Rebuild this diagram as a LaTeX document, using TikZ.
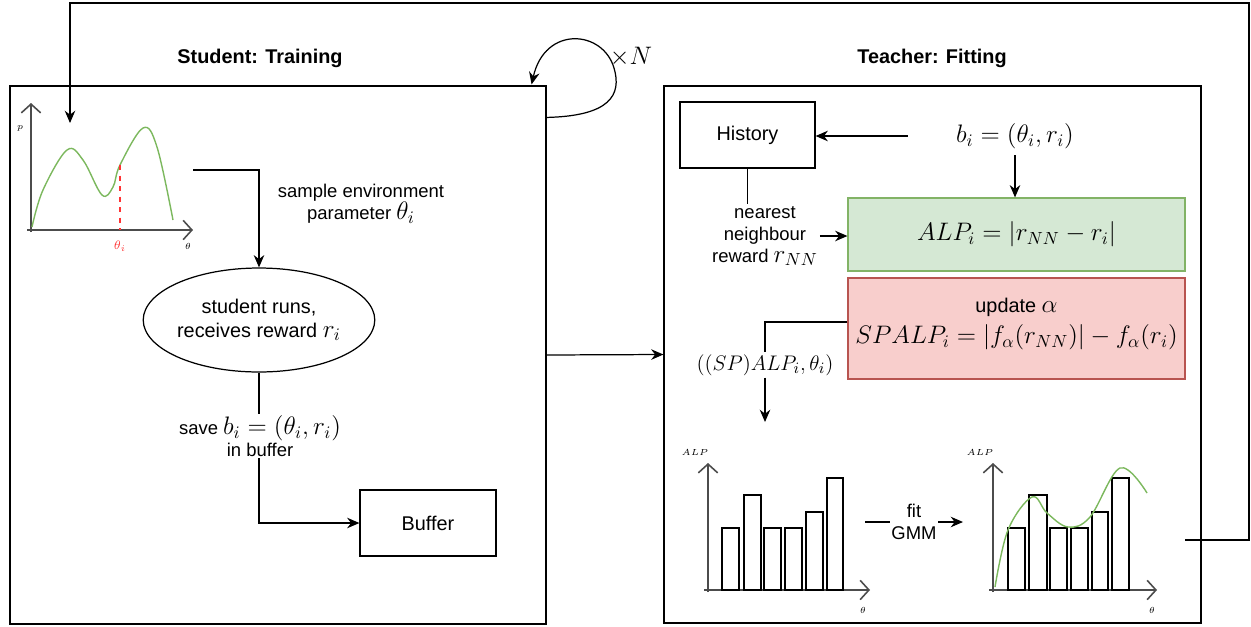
\documentclass[tikz,border=0pt]{standalone}
\usepackage{fontspec}
\setmainfont{Liberation Sans}
\usetikzlibrary{arrows.meta,shapes.geometric,calc}
\definecolor{gfill}{HTML}{D5E8D4}
\definecolor{gline}{HTML}{82B366}
\definecolor{rfill}{HTML}{F8CECC}
\definecolor{rline}{HTML}{B85450}
\definecolor{curvegreen}{HTML}{7CB85E}
\definecolor{thetared}{HTML}{FF3333}
\newcommand\mth[1]{{\fontsize{14}{16}\selectfont$#1$}}
\begin{document}
\begin{tikzpicture}[x=0.02cm,y=-0.02cm,
  font=\fontsize{11.3}{13.5}\selectfont,
  box/.style={draw, line width=0.7pt, rectangle, inner sep=2pt},
  conn/.style={line width=0.7pt, -{Stealth[length=7pt,width=6pt]}},
  plain/.style={line width=0.7pt},
  axis/.style={line width=0.9pt, black!70, -{Straight Barb[length=5pt,width=11pt]}},
  bar/.style={draw, line width=0.8pt},
  title/.style={font=\bfseries\fontsize{11.3}{13}\selectfont},
  lbl/.style={align=center, inner sep=1pt, font=\fontsize{10.5}{12.5}\selectfont},
  tiny/.style={font=\fontsize{5.5}{6}\selectfont, inner sep=0pt},
  fitcurve/.style={curvegreen, line width=0.8pt}
]
\useasboundingbox (0,0) rectangle (1251,626);

% ---- frames
\node[box, minimum width=10.72cm, minimum height=10.76cm] (stud) at (278,355) {};
\node[box, minimum width=10.74cm, minimum height=10.74cm] (teach) at (932.5,354.5) {};
\node[title] (studt) at (260,58) {Student: Training};
\node[title] (teacht) at (932,58) {Teacher: Fitting};

% ---- self loop
\draw[conn] ($(stud.north east)+(0,32)$) .. controls (610,116) and (622,95) .. (614,68)
  .. controls (603,30) and (545,25) .. ($(stud.north east)+(-15,-1)$);
\node (xn) at (631,57) {\mth{\times N}};

% ---- student -> teacher
\draw[conn] (stud.east) -- (teach.west);

% ---- feedback loop
\coordinate (fbS) at (1185,540);
\coordinate (fbE) at (70,123);
\draw[conn] (fbS) -- (1249,540) -- (1249,3) -- (70,3) -- (fbE);

% ---- student plot
\draw[axis] (31,232) -- (31,103);
\draw[axis] (27,230) -- (193,230);
\node[tiny] at (20,128) {$p$};
\node[tiny] at (188,246) {$\theta$};
\draw[fitcurve] plot[smooth, tension=0.6] coordinates {(32,227) (43,190) (67,150) (83,160) (102,195) (113,187) (120,165) (143,128) (157,147) (173,220)};
\draw[thetared, dashed, line width=0.8pt] (120,165) -- (120,230);
\node[tiny, thetared, font=\fontsize{7.5}{8}\selectfont] at (120,246) {$\theta_i$};

% ---- student flow
\coordinate (pout) at (193,170);
\node[ellipse, draw, line width=0.7pt, minimum width=4cm, minimum height=2.08cm, align=center, inner sep=0pt] (run) at (259,320) {student runs,\\receives reward \mth{r_i}};
\draw[conn] (pout) -| (run.north);
\node[lbl] (samp) at (361,204) {sample environment\\parameter \mth{\theta_i}};
\node[box, minimum width=2.72cm, minimum height=1.32cm] (buf) at (428,523) {Buffer};
\draw[conn] (run.south) |- (buf.west);
\node[lbl, fill=white] (save) at (260,436) {save \mth{b_i=(\theta_i,r_i)}\\in buffer};

% ---- teacher
\node[box, minimum width=2.7cm, minimum height=1.32cm] (hist) at (747.5,135) {History};
\node[minimum width=4.28cm, minimum height=0.76cm, inner sep=0pt] (bi) at (1015,136) {\mth{b_i=(\theta_i,r_i)}};
\draw[conn] (bi.west) -- (bi.west -| hist.east);
\node[draw=gline, fill=gfill, line width=0.7pt, minimum width=6.74cm, minimum height=1.46cm] (alp) at (1016.5,234.5) {\mth{ALP_i = |r_{NN} - r_i|}};
\draw[conn] (bi.south) -- (bi.south |- alp.north);
\node[lbl] (nn) at (765,236) {nearest\\neighbour\\reward \mth{r_{NN}}};
\draw[plain] (hist.south) -- (hist.south |- nn.north);
\draw[conn] (nn.east) -- (nn.east -| alp.west);
\node[draw=rline, fill=rfill, line width=0.7pt, minimum width=6.74cm, minimum height=2.02cm] (spalp) at (1016.5,328.5) {};
\node[align=center, inner sep=1pt] (spt) at (1016.5,324) {update \mth{\alpha}\\[4pt]{\fontsize{13.7}{16}\selectfont$SPALP_i = |f_\alpha(r_{NN})| - f_\alpha(r_i)$}};
\node[lbl] (sp) at (765,365) {{\fontsize{13}{15}\selectfont$((SP)ALP_i,\theta_i)$}};
\draw[plain] ($(spalp.west)+(0,-6.5)$) -| (sp.north);
\coordinate (hin) at (765,422);
\draw[conn] (sp.south) -- (hin);

% ---- left histogram
\draw[axis] (708,592) -- (708,463);
\draw[axis] (704,590) -- (870,590);
\node[tiny] at (695,452) {$ALP$};
\node[tiny] at (863,610) {$\theta$};
\draw[bar] (722,590) rectangle (739,528);
\draw[bar] (744,590) rectangle (761,495);
\draw[bar] (764,590) rectangle (781,528);
\draw[bar] (785,590) rectangle (802,528);
\draw[bar] (806,590) rectangle (823,512);
\draw[bar] (827,590) rectangle (843,478);

% ---- fit GMM
\coordinate (fa) at (865,522);
\coordinate (fb) at (963,522);
\draw[conn] (fa) -- (fb) node[midway, lbl, fill=white] (gmm) {fit\\GMM};

% ---- right histogram
\draw[axis] (993,592) -- (993,463);
\draw[axis] (989,590) -- (1157,590);
\node[tiny] at (980,452) {$ALP$};
\node[tiny] at (1152,610) {$\theta$};
\draw[bar] (1008,590) rectangle (1025,528);
\draw[bar] (1029,590) rectangle (1047,495);
\draw[bar] (1050,590) rectangle (1067,528);
\draw[bar] (1071,590) rectangle (1088,528);
\draw[bar] (1092,590) rectangle (1108,512);
\draw[bar] (1112,590) rectangle (1129,478);
\draw[fitcurve] plot[smooth, tension=0.6] coordinates {(995,587) (1008,530) (1032,497) (1047,513) (1068,527) (1090,517) (1120,468) (1147,493)};
\end{tikzpicture}
\end{document}
